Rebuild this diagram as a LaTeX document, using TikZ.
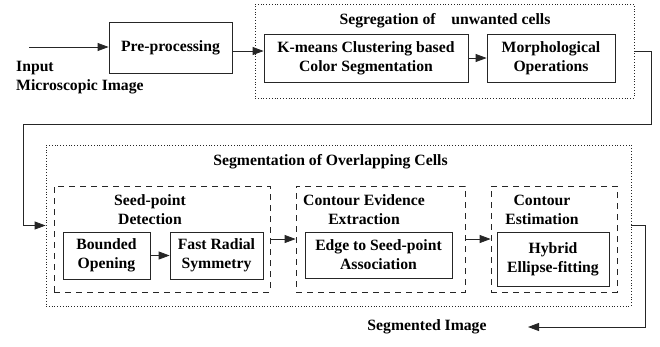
\documentclass[tikz,border=0pt]{standalone}
\usepackage{fontspec}
\setmainfont{Liberation Serif}
\usetikzlibrary{arrows.meta,positioning}

\begin{document}
\begin{tikzpicture}[
    x=1pt, y=-1pt,
    font=\fontsize{15.7}{19}\selectfont\bfseries,
    block/.style={draw=black!85, line width=0.8pt, minimum height=47pt, align=center, inner sep=2pt},
    group/.style={draw=black!85, line width=0.8pt, dotted},
    stage/.style={draw=black!85, line width=0.8pt, dash pattern=on 6pt off 5pt, minimum height=106pt},
    caption/.style={align=center, inner sep=1pt},
    link/.style={->, draw=black!85, line width=0.8pt, solid},
    >={Triangle[length=11pt,width=8pt]}
]
    \useasboundingbox (0,0) rectangle (660,346);

    % Upper group
    \node[group, minimum width=379pt, minimum height=94pt] (segtop) at (444.5,51) {};
    \node[caption] (segtoptitle) at (445,21) {Segregation of\quad unwanted cells};
    \node[block, minimum width=123pt, minimum height=51pt] (pre) at (170.5,47.5) {Pre-processing};
    \node[block, minimum width=204pt, minimum height=48pt] (kmeans) at (366,58) {K-means Clustering based\\Color Segmentation};
    \node[block, minimum width=128pt, minimum height=48pt] (morph) at (551,58) {Morphological\\Operations};
    \node[caption, align=left, anchor=west] (input) at (15,78) {Input\\Microscopic Image};
    \coordinate (instart) at (29,47);
    \coordinate (bend) at (23,124);

    % Lower group
    \node[group, minimum width=585pt, minimum height=161pt] (segov) at (338.5,225.5) {};
    \node[caption] (segovtitle) at (330.5,162) {Segmentation of Overlapping Cells};

    \node[stage, minimum width=216pt] (seed) at (162,239) {};
    \node[caption] (seedtitle) at (150,210) {Seed-point\\Detection};
    \node[block, minimum width=87pt] (bounded) at (106.5,255.5) {Bounded\\Opening};
    \node[block, minimum width=93pt] (fast) at (216.5,255.5) {Fast Radial\\Symmetry};

    \node[stage, minimum width=169pt] (evid) at (380.5,239) {};
    \node[caption] (evidtitle) at (364,210) {Contour Evidence\\Extraction};
    \node[block, minimum width=147pt, minimum height=46pt] (assoc) at (378.5,255) {Edge to Seed-point\\Association};

    \node[stage, minimum width=126pt] (estim) at (554,239) {};
    \node[caption] (estimtitle) at (542,210) {Contour\\Estimation};
    \node[block, minimum width=112pt, minimum height=54pt] (hybrid) at (553,259) {Hybrid\\Ellipse-fitting};

    \node[caption] (output) at (427,327) {Segmented Image};
    \coordinate (outend) at (528,327);

    % Connectors
    \draw[link] (instart) -- (instart -| pre.west);
    \coordinate (pp) at ([yshift=-3.5pt]pre.east);
    \draw[link] (pp) -- (pp -| kmeans.west);
    \draw[link] (kmeans) -- (morph);
    \draw[link] (segtop.east) -- ++(17,0) |- (bend) |- (segov.west);
    \draw[link] (bounded) -- (fast);
    \draw[link] (seed) -- (evid);
    \draw[link] (evid) -- (estim);
    \draw[link] (segov.east) -- ++(14,0) |- (outend);
\end{tikzpicture}
\end{document}
